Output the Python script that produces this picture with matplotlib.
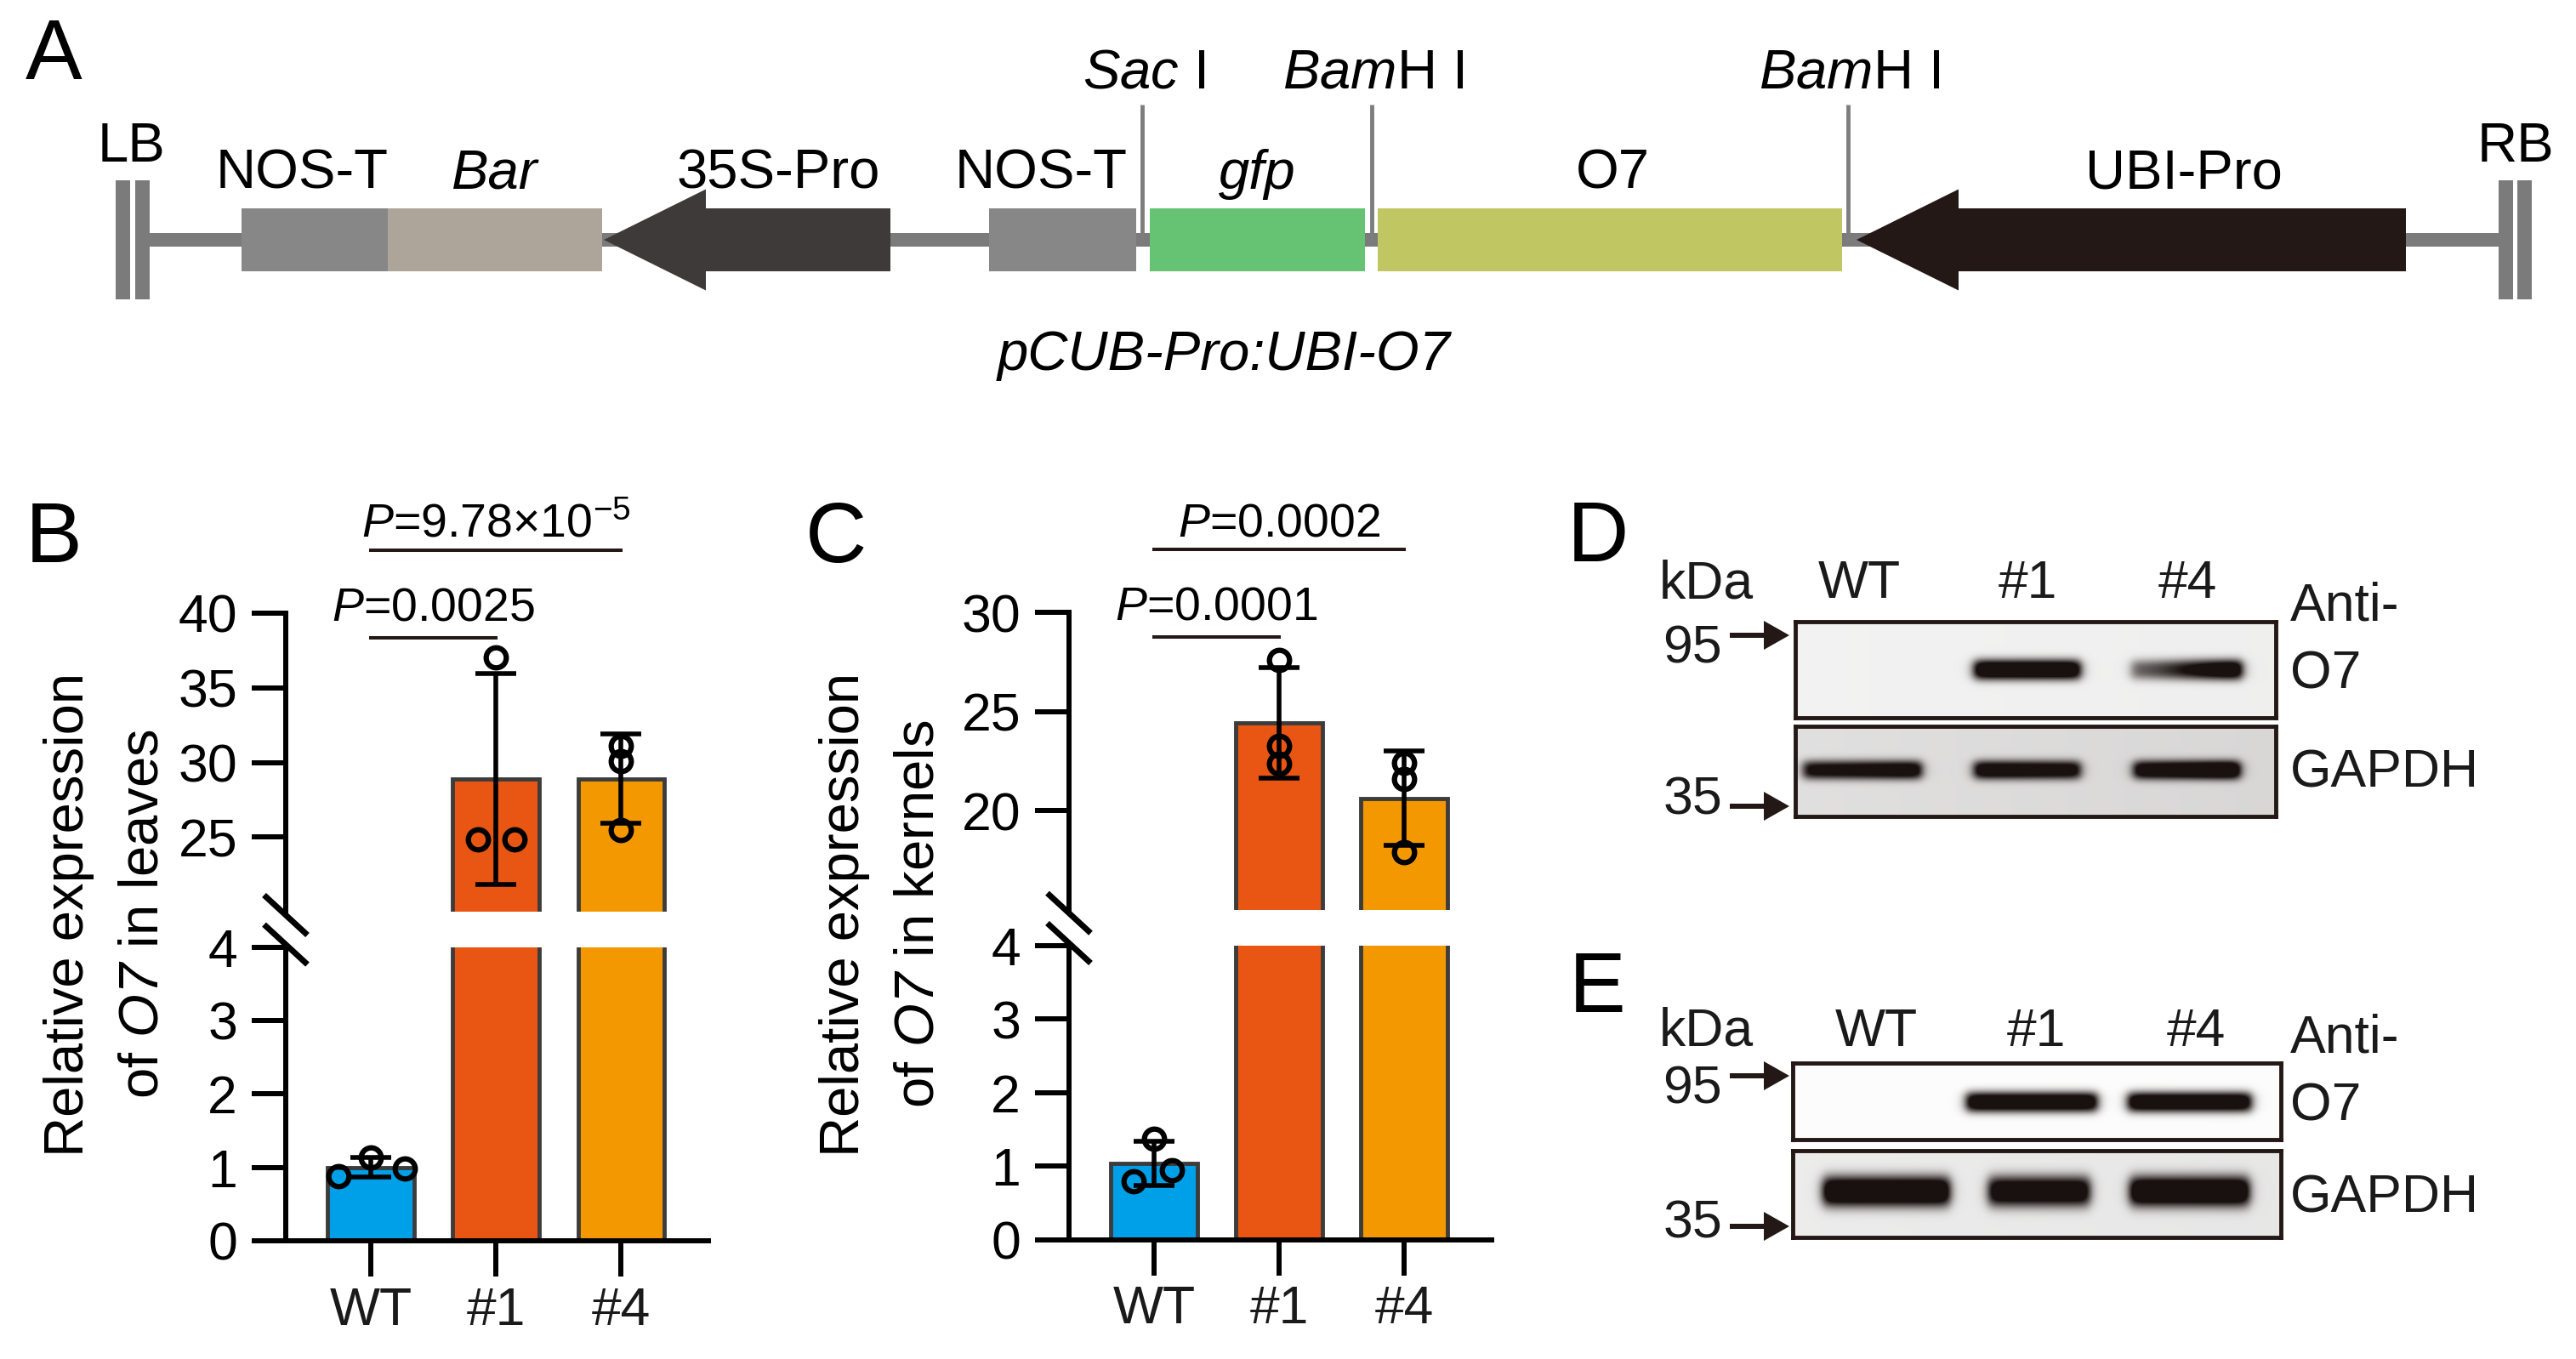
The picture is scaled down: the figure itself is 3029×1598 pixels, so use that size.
import numpy as np
import matplotlib
matplotlib.use('Agg')
import matplotlib.pyplot as plt
from matplotlib.patches import Rectangle, Polygon, FancyArrow
import matplotlib.transforms as mtransforms

W, H = 3029, 1598
plt.rcParams['font.family'] = ['Liberation Sans', 'DejaVu Sans']
plt.rcParams['mathtext.fontset'] = 'custom'
plt.rcParams['mathtext.rm'] = 'Liberation Sans:italic'
plt.rcParams['mathtext.it'] = 'Liberation Sans:italic'
plt.rcParams['mathtext.sf'] = 'Liberation Sans'

# ------------------------------------------------------------------ data
groups = ['WT', '#1', '#4']
bar_colors = ['#00A0E9', '#E95513', '#F39800']

leaf_mean = [1.00, 28.90, 28.90]
leaf_sd = [0.13, 7.07, 3.00]
leaf_points = [[0.88, 1.14, 0.98], [37.06, 24.82, 24.82], [31.13, 30.06, 25.47]]
leaf_jitter = [[-0.26, 0.0, 0.27], [0.0, -0.146, 0.146], [0.0, 0.0, 0.0]]
leaf_pvalues = [r'$\mathit{P}$=0.0025', r'$\mathit{P}$=9.78×10$^{\mathsf{-5}}$']

kernel_mean = [1.04, 24.41, 20.63]
kernel_sd = [0.30, 2.79, 2.40]
kernel_points = [[1.37, 0.80, 0.94], [27.60, 23.25, 22.39], [22.40, 21.60, 17.90]]
kernel_jitter = [[0.0, -0.16, 0.14], [0.0, 0.0, 0.0], [0.0, 0.0, 0.0]]
kernel_pvalues = [r'$\mathit{P}$=0.0001', r'$\mathit{P}$=0.0002']

# construct map (positions along the T-DNA drawing)
feat_names = ['NOS-T', 'Bar', '35S-Pro', 'NOS-T', 'gfp', 'O7', 'UBI-Pro']
feat_start = [284, 456, 710, 1163, 1352, 1620, 2183]
feat_end = [456, 708, 1047, 1336, 1605, 2166, 2829]
feat_kind = ['box', 'box', 'arrow', 'box', 'box', 'box', 'arrow']
feat_italic = [False, True, False, False, True, False, False]
feat_label_x = [355, 582, 915, 1224, 1478, 1896, 2568]
feat_colors = ['#878787', '#ADA59A', '#3E3A39', '#878787', '#66C373', '#C0C762', '#231815']
site_labels = [r'$Sac$ I', r'$Bam$H I', r'$Bam$H I']
site_pos = [1343, 1613, 2173]

# western blots: band levels (left half, right half) per lane
lanes = ['WT', '#1', '#4']
blotD_O7 = [(0.0, 0.0), (1.0, 1.0), (0.45, 1.0)]
blotD_GAPDH = [(0.75, 0.85), (0.85, 0.80), (0.85, 1.0)]
blotE_O7 = [(0.0, 0.0), (1.0, 1.0), (1.0, 1.0)]
blotE_GAPDH = [(1.0, 1.0), (0.9, 0.9), (1.0, 1.0)]
markers_kDa = ['95', '35']

# ------------------------------------------------------------------ helpers
def rect(x0, y0, x1, y1):
    return [x0 / W, 1 - y1 / H, (x1 - x0) / W, (y1 - y0) / H]

fig = plt.figure(figsize=(W / 100, H / 100), dpi=100)
fig.patch.set_facecolor('white')

canvas = fig.add_axes([0, 0, 1, 1])
canvas.set_xlim(0, W)
canvas.set_ylim(H, 0)
canvas.axis('off')
canvas.set_zorder(10)
canvas.patch.set_visible(False)

TXT = '#1a1a1a'

# ------------------------------------------------------------------ panel A
canvas.text(30, 93, 'A', fontsize=72, ha='left', va='baseline', color='black')
yc = 282
canvas.add_patch(Rectangle((174, yc - 8), 2938 - 174, 16, color='#7b7b7b', lw=0))
for bx in (136, 159, 2938, 2960):
    canvas.add_patch(Rectangle((bx, 212), 17, 140, color='#7b7b7b', lw=0))
canvas.text(155, 190, 'LB', fontsize=47, ha='center', va='baseline')
canvas.text(2958, 190, 'RB', fontsize=47, ha='center', va='baseline')

box_h = 37
head_h = 59.5
head_len = 120
for name, s, e, kind, ital, lx, col in zip(feat_names, feat_start, feat_end, feat_kind,
                                           feat_italic, feat_label_x, feat_colors):
    if kind == 'box':
        canvas.add_patch(Rectangle((s, yc - box_h), e - s, 2 * box_h, color=col, lw=0, zorder=3))
    else:
        b = s + head_len
        pts = [(s, yc), (b, yc - head_h), (b, yc - box_h), (e, yc - box_h),
               (e, yc + box_h), (b, yc + box_h), (b, yc + head_h)]
        canvas.add_patch(Polygon(pts, closed=True, color=col, lw=0, zorder=3))
    canvas.text(lx, 222, name, fontsize=47, ha='center', va='baseline',
                fontstyle='italic' if ital else 'normal')

for lab, xp in zip(site_labels, site_pos):
    canvas.plot([xp, xp], [123, yc], color='#7d7d7d', lw=3.5, solid_capstyle='butt', zorder=2)
    canvas.text(xp + 2, 103, lab, fontsize=47, ha='center', va='baseline')

canvas.text(1439, 435, 'pCUB-Pro:UBI-O7', fontsize=47, ha='center', va='baseline',
            fontstyle='italic')

# ------------------------------------------------------------------ bar charts
def chart(letter, letter_x, left, right, up_top, up_bot, lo_top, lo_bot, upper_lim, upper_ticks,
          means, sds, pts, jit, pvals, ylabel_lines, ylab_x, ylab_y):
    canvas.text(letter_x, 661, letter, fontsize=72, ha='left', va='baseline')
    ax_u = fig.add_axes(rect(left, up_top, right, up_bot))
    ax_l = fig.add_axes(rect(left, lo_top, right, lo_bot))
    x = np.arange(len(groups))
    for ax in (ax_u, ax_l):
        ax.bar(x, means, width=0.69, color=bar_colors, edgecolor='#3c3c3c', linewidth=3.5, zorder=2)
        ax.errorbar(x, means, yerr=sds, fmt='none', ecolor='black', elinewidth=4,
                    capsize=17, capthick=4, zorder=3)
        for i in range(len(groups)):
            ax.plot(x[i] + np.array(jit[i]), pts[i], 'o', mfc='none', mec='black',
                    ms=17, mew=4.5, zorder=4)
        ax.set_xlim(-0.68, 2.70)
        ax.patch.set_visible(False)
        for s in ['top', 'right']:
            ax.spines[s].set_visible(False)
        ax.spines['left'].set_linewidth(4.3)
        ax.spines['bottom'].set_linewidth(4.3)
        ax.tick_params(axis='y', length=29, width=4.3, pad=12, labelsize=45, colors='black')
    ax_u.set_ylim(*upper_lim)
    ax_u.set_yticks(upper_ticks)
    ax_u.spines['bottom'].set_visible(False)
    ax_u.tick_params(axis='x', bottom=False, labelbottom=False)
    ax_l.set_ylim(0, 4)
    ax_l.set_yticks([0, 1, 2, 3, 4])
    ax_l.set_xticks(x)
    ax_l.set_xticklabels(groups)
    ax_l.tick_params(axis='x', length=30, width=4.3, pad=8, labelsize=45, labelcolor=TXT)

    trans = mtransforms.blended_transform_factory(ax_u.transData, ax_u.transAxes)
    ax_u.plot([0, 1], [0.918, 0.918], transform=trans, clip_on=False, color='#231815', lw=2.9)
    ax_u.text(0.5, 0.976, pvals[0], transform=trans, ha='center', va='baseline', fontsize=40)
    ax_u.plot([0, 2], [1.211, 1.211], transform=trans, clip_on=False, color='#231815', lw=2.9)
    ax_u.text(1.0, 1.256, pvals[1], transform=trans, ha='center', va='baseline', fontsize=40)

    # axis break marks
    for yb in (up_bot + 4, lo_top - 3):
        canvas.plot([left - 25.5, left + 25.5], [yb - 23.5, yb + 23.5], color='black', lw=5,
                    solid_capstyle='butt')

    for line, xb in zip(ylabel_lines, ylab_x):
        canvas.text(xb, ylab_y, line, fontsize=47, rotation=90, rotation_mode='anchor',
                    ha='center', va='baseline')


chart('B', 30, 336, 833.5, 721, 1072, 1113.6, 1459, (20, 40), [25, 30, 35, 40],
      leaf_mean, leaf_sd, leaf_points, leaf_jitter, leaf_pvalues,
      ['Relative expression', r'of $O7$ in leaves'], [98, 186], 1075)
chart('C', 947, 1257, 1754, 720.2, 1069.7, 1112, 1457.7, (15, 30), [20, 25, 30],
      kernel_mean, kernel_sd, kernel_points, kernel_jitter, kernel_pvalues,
      ['Relative expression', r'of $O7$ in kernels'], [1010, 1097], 1075)

# ------------------------------------------------------------------ western blots
def band_image(w, h, centers, widths, levels, ycf, thick, bg, gain=1.35):
    xx = np.arange(w)[None, :] + 0.5
    yy = np.arange(h)[:, None] + 0.5
    dens = np.zeros((h, w))
    for c, bw, (lv_l, lv_r) in zip(centers, widths, levels):
        cx = c * w
        lo, hi = cx - bw / 2, cx + bw / 2
        px = 0.5 * (np.tanh((xx - lo) / 7.0) - np.tanh((xx - hi) / 7.0))
        t = np.clip((xx - lo) / bw, 0, 1)
        lv = lv_l + (lv_r - lv_l) * (3 * t ** 2 - 2 * t ** 3)
        py = np.exp(-np.abs((yy - ycf * h) / thick) ** 2.5)
        dens = dens + px * lv * py
    grad = bg * (1 + 0.25 * (xx / w - 0.5))
    a = np.clip(grad + gain * dens, 0, 1)
    ink = np.array([0.10, 0.07, 0.06])
    return 1 - a[..., None] * (1 - ink)


def blot(x0, y0, x1, y1, centers, widths, levels, ycf, thick, bg):
    ax = fig.add_axes(rect(x0, y0, x1, y1))
    w, h = int(round(x1 - x0)), int(round(y1 - y0))
    img = band_image(w, h, centers, widths, levels, ycf, thick, bg)
    ax.imshow(img, extent=(0, w, h, 0), aspect='auto', interpolation='bilinear')
    ax.set_xticks([])
    ax.set_yticks([])
    for s in ax.spines.values():
        s.set_linewidth(3.5)
        s.set_color('#231815')
    return ax


def blot_panel(letter, letter_base, lab_base, label_x, top_box, bot_box, top_levels, bot_levels,
               top_c, bot_c, top_w, bot_w, top_geom, bot_geom, side_base, kda_base, arrow_y):
    canvas.text(letter_base[0], letter_base[1], letter, fontsize=72, ha='left', va='baseline')
    canvas.text(2006, lab_base, 'kDa', fontsize=45, ha='center', va='baseline', color=TXT)
    for lab, lx in zip(lanes, label_x):
        canvas.text(lx, lab_base, lab, fontsize=45, ha='center', va='baseline', color=TXT)
    blot(*top_box, top_c, top_w, top_levels, *top_geom)
    blot(*bot_box, bot_c, bot_w, bot_levels, *bot_geom)
    for txt, yb in zip(['Anti-', 'O7', 'GAPDH'], side_base):
        canvas.text(2693, yb, txt, fontsize=45, ha='left', va='baseline', color=TXT)
    for m, yb, ya in zip(markers_kDa, kda_base, arrow_y):
        canvas.text(2025, yb, m, fontsize=45, ha='right', va='baseline', color=TXT)
        canvas.add_patch(FancyArrow(2034, ya, 70, 0, width=6, head_width=34, head_length=30,
                                    length_includes_head=True, color='#231815', lw=0))


blot_panel('D', (1843, 660), 703, [2186, 2384, 2572],
           (2111, 731, 2676, 844), (2111, 854, 2676, 960), blotD_O7, blotD_GAPDH,
           [0.14, 0.483, 0.815], [0.14, 0.483, 0.815], [125, 125, 130], [139, 125, 125],
           (0.50, 12, 0.06), (0.49, 11, 0.15), [730, 810, 925], [780, 958], [747, 948])
blot_panel('E', (1845, 1190), 1230, [2206, 2394, 2582],
           (2108, 1250, 2682, 1340), (2108, 1353, 2682, 1455), blotE_O7, blotE_GAPDH,
           [0.19, 0.49, 0.813], [0.192, 0.505, 0.813], [150, 154, 145], [149, 119, 140],
           (0.51, 12, 0.01), (0.47, 18, 0.09), [1237, 1317, 1425], [1298, 1455], [1265, 1442])

fig.savefig('out.png', dpi=100, facecolor='white')
